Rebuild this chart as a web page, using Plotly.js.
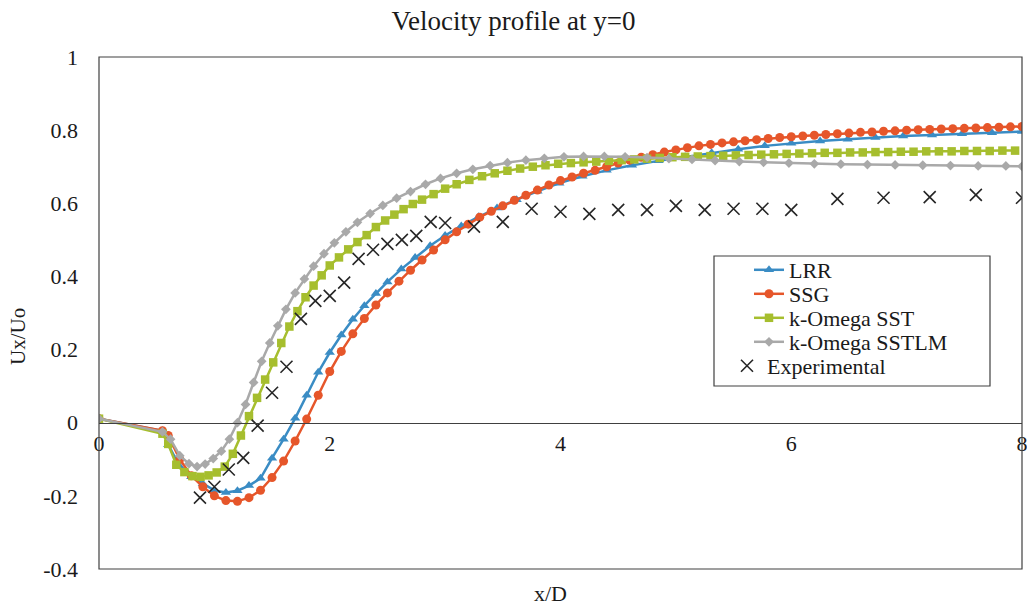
<!DOCTYPE html>
<html>
<head>
<meta charset="utf-8">
<script src="https://cdn.plot.ly/plotly-3.0.1.min.js"></script>
<style>html,body{margin:0;padding:0;background:#fff;}#chart{width:1027px;height:606px;}</style>
</head>
<body>
<div id="chart"></div>
<script>
// ---- Data ----
const seriesNames = ["LRR", "SSG", "k-Omega SST", "k-Omega SSTLM", "Experimental"];

const xLRR = [0, 0.55, 0.6, 0.7, 0.8, 0.9, 1.0, 1.1, 1.2, 1.3, 1.4, 1.5, 1.6, 1.7, 1.8, 1.9, 2.0, 2.1, 2.2, 2.3, 2.4, 2.5, 2.62, 2.74, 2.87, 3.0, 3.14, 3.29, 3.45, 3.62, 3.8, 3.99, 4.19, 4.4, 4.62, 4.85, 5.08, 5.31, 5.54, 5.77, 6.0, 6.25, 6.49, 6.73, 6.97, 7.22, 7.48, 7.74, 8.0];
const yLRR = [0.011, -0.022, -0.06, -0.12, -0.148, -0.167, -0.185, -0.191, -0.186, -0.172, -0.152, -0.097, -0.045, 0.012, 0.075, 0.138, 0.192, 0.24, 0.283, 0.32, 0.353, 0.385, 0.42, 0.452, 0.484, 0.512, 0.538, 0.563, 0.587, 0.61, 0.633, 0.655, 0.674, 0.69, 0.704, 0.716, 0.727, 0.738, 0.748, 0.757, 0.764, 0.77, 0.775, 0.78, 0.784, 0.787, 0.79, 0.793, 0.796];

const xSSG = [0, 0.55, 0.6, 0.7, 0.8, 0.9, 1.0, 1.1, 1.2, 1.3, 1.4, 1.5, 1.6, 1.7, 1.8, 1.9, 2.0, 2.1, 2.2, 2.3, 2.4, 2.5, 2.6, 2.7, 2.8, 2.9, 3.0, 3.1, 3.2, 3.3, 3.4, 3.5, 3.6, 3.7, 3.8, 3.9, 4.0, 4.1, 4.2, 4.3, 4.4, 4.5, 4.6, 4.7, 4.8, 4.9, 5.0, 5.1, 5.2, 5.3, 5.4, 5.5, 5.6, 5.7, 5.8, 5.9, 6.0, 6.1, 6.2, 6.3, 6.4, 6.5, 6.6, 6.7, 6.8, 6.9, 7.0, 7.1, 7.2, 7.3, 7.4, 7.5, 7.6, 7.7, 7.8, 7.9, 8.0];
const ySSG = [0.011, -0.022, -0.035, -0.1, -0.145, -0.175, -0.2, -0.213, -0.215, -0.205, -0.185, -0.15, -0.105, -0.05, 0.01, 0.075, 0.14, 0.195, 0.243, 0.285, 0.322, 0.355, 0.387, 0.417, 0.445, 0.472, 0.5, 0.522, 0.543, 0.562, 0.578, 0.593, 0.608, 0.622, 0.636, 0.65, 0.662, 0.672, 0.682, 0.69, 0.7, 0.71, 0.718, 0.726, 0.733, 0.74, 0.746, 0.752, 0.757, 0.761, 0.765, 0.768, 0.771, 0.774, 0.777, 0.78, 0.782, 0.784, 0.786, 0.788, 0.79, 0.792, 0.794, 0.795, 0.797, 0.798, 0.8, 0.801, 0.802, 0.803, 0.804, 0.805, 0.806, 0.807, 0.808, 0.809, 0.81];

const xSST = [0, 0.55, 0.6, 0.67, 0.74, 0.81, 0.88, 0.95, 1.02, 1.09, 1.16, 1.23, 1.3, 1.37, 1.44, 1.51, 1.58, 1.65, 1.72, 1.79, 1.86, 1.93, 2.0, 2.08, 2.16, 2.24, 2.32, 2.4, 2.48, 2.56, 2.64, 2.72, 2.8, 2.9, 3.0, 3.1, 3.21, 3.32, 3.43, 3.54, 3.65, 3.76, 3.87, 3.98, 4.09, 4.2, 4.31, 4.42, 4.53, 4.64, 4.75, 4.86, 4.97, 5.08, 5.19, 5.3, 5.41, 5.52, 5.63, 5.74, 5.85, 5.96, 6.07, 6.18, 6.29, 6.4, 6.51, 6.62, 6.73, 6.84, 6.95, 7.06, 7.17, 7.28, 7.39, 7.5, 7.61, 7.72, 7.83, 7.94];
const ySST = [0.011, -0.03, -0.058, -0.115, -0.135, -0.146, -0.148, -0.144, -0.136, -0.12, -0.085, -0.035, 0.018, 0.068, 0.118, 0.165, 0.218, 0.263, 0.305, 0.343, 0.375, 0.403, 0.43, 0.452, 0.474, 0.494, 0.513, 0.535, 0.553, 0.569, 0.584, 0.598, 0.61, 0.625, 0.64, 0.652, 0.664, 0.674, 0.682, 0.689, 0.695, 0.7, 0.704, 0.708, 0.71, 0.712, 0.714, 0.716, 0.718, 0.72, 0.722, 0.724, 0.726, 0.727, 0.728, 0.729, 0.73, 0.731, 0.732, 0.733, 0.734, 0.735, 0.736, 0.737, 0.738, 0.738, 0.739, 0.739, 0.74, 0.74, 0.741, 0.741, 0.742, 0.742, 0.742, 0.743, 0.743, 0.743, 0.744, 0.744];

const xSSTLM = [0, 0.55, 0.62, 0.7, 0.78, 0.85, 0.92, 0.99, 1.06, 1.13, 1.2, 1.27, 1.34, 1.41, 1.48, 1.55, 1.62, 1.7, 1.78, 1.86, 1.95, 2.04, 2.14, 2.24, 2.35, 2.46, 2.58, 2.7, 2.83, 2.96, 3.1, 3.24, 3.39, 3.54, 3.7, 3.86, 4.03, 4.2, 4.38, 4.56, 4.75, 4.94, 5.14, 5.34, 5.55, 5.76, 5.98, 6.2, 6.43, 6.66, 6.9, 7.14, 7.38, 7.62, 7.86, 8.0];
const ySSTLM = [0.011, -0.025, -0.045, -0.09, -0.112, -0.12, -0.113, -0.098, -0.078, -0.045, 0.0, 0.05, 0.11, 0.168, 0.218, 0.265, 0.31, 0.355, 0.393, 0.428, 0.462, 0.492, 0.522, 0.548, 0.572, 0.594, 0.614, 0.632, 0.652, 0.668, 0.682, 0.693, 0.703, 0.711, 0.718, 0.723, 0.727, 0.728, 0.728, 0.727, 0.725, 0.722, 0.72, 0.717, 0.714, 0.712, 0.71, 0.708, 0.707, 0.706, 0.705, 0.704, 0.703, 0.702, 0.702, 0.701];

const xExp = [0.875, 1.0, 1.125, 1.25, 1.375, 1.5, 1.625, 1.75, 1.875, 2.0, 2.125, 2.25, 2.375, 2.5, 2.625, 2.75, 2.875, 3.0, 3.25, 3.5, 3.75, 4.0, 4.25, 4.5, 4.75, 5.0, 5.25, 5.5, 5.75, 6.0, 6.4, 6.8, 7.2, 7.6, 8.0];
const yExp = [-0.205, -0.175, -0.128, -0.096, -0.008, 0.082, 0.153, 0.284, 0.333, 0.347, 0.383, 0.448, 0.473, 0.489, 0.5, 0.511, 0.549, 0.546, 0.536, 0.549, 0.585, 0.577, 0.571, 0.582, 0.582, 0.593, 0.582, 0.585, 0.585, 0.582, 0.612, 0.615, 0.617, 0.623, 0.615];

const xTickVals = [0, 2, 4, 6, 8];
const xTickText = ["0", "2", "4", "6", "8"];
const yTickVals = [-0.4, -0.2, 0, 0.2, 0.4, 0.6, 0.8, 1];
const yTickText = ["-0.4", "-0.2", "0", "0.2", "0.4", "0.6", "0.8", "1"];

// ---- Styles ----
const FONT = '"Liberation Serif", "Times New Roman", Times, "DejaVu Serif", serif';
const TXT = "#1a1a1a";
const colLRR = "#3A8CC4", colSSG = "#E6562A", colSST = "#A6BE2E", colSSTLM = "#A9A9A9", colExp = "#262626";

const traces = [
  {x: xLRR, y: yLRR, name: seriesNames[0], legend: "legend", mode: "lines+markers", line: {color: colLRR, width: 2.5},
   marker: {symbol: "triangle-up", size: 9, color: colLRR}},
  {x: xSSG, y: ySSG, name: seriesNames[1], legend: "legend2", mode: "lines+markers", line: {color: colSSG, width: 2.5},
   marker: {symbol: "circle", size: 9, color: colSSG}},
  {x: xSST, y: ySST, name: seriesNames[2], legend: "legend3", mode: "lines+markers", line: {color: colSST, width: 2.5},
   marker: {symbol: "square", size: 8.5, color: colSST}},
  {x: xSSTLM, y: ySSTLM, name: seriesNames[3], legend: "legend4", mode: "lines+markers", line: {color: colSSTLM, width: 2.5},
   marker: {symbol: "diamond", size: 7.5, color: colSSTLM}},
  {x: xExp, y: yExp, name: seriesNames[4], legend: "legend5", mode: "markers",
   marker: {symbol: "x-thin", size: 12, color: colExp, line: {color: colExp, width: 1.6}}}
];

const L = 99, R = 1022, T = 57, B = 569, W = 1027, H = 606;
const px2x = p => (p - L) / (R - L);
const px2y = p => (B - p) / (B - T);

function legendAt(leftPx, rowPx) {
  return {x: px2x(leftPx), y: px2y(rowPx), xanchor: "left", yanchor: "middle",
          bgcolor: "rgba(0,0,0,0)", borderwidth: 0,
          font: {family: FONT, size: 22, color: TXT}};
}

const layout = {
  width: W, height: H,
  margin: {l: L, r: W - R, t: T, b: H - B, pad: 0},
  paper_bgcolor: "#fff", plot_bgcolor: "#fff",
  font: {family: FONT, size: 22, color: TXT},
  title: {text: "Velocity profile at y=0", x: 0.5, xref: "container", xanchor: "center",
          y: 1 - 21 / H, yref: "container", yanchor: "middle",
          font: {family: FONT, size: 27, color: TXT}},
  showlegend: true,
  legend: legendAt(749, 270),
  legend2: legendAt(749, 294),
  legend3: legendAt(749, 318),
  legend4: legendAt(749, 342),
  legend5: legendAt(727, 366),
  xaxis: {range: [0, 8], anchor: "free", position: 0.4 / 1.4,
          showline: true, linecolor: "#404040", linewidth: 1.5,
          showgrid: false, zeroline: false, ticks: "",
          tickmode: "array", tickvals: xTickVals, ticktext: xTickText,
          ticklabelstandoff: 0, ticklabeloverflow: "allow",
          tickfont: {family: FONT, size: 22, color: TXT}},
  yaxis: {range: [-0.4, 1], showline: false, showgrid: false, zeroline: false, ticks: "",
          tickmode: "array", tickvals: yTickVals, ticktext: yTickText,
          ticklabelstandoff: 20,
          tickfont: {family: FONT, size: 22, color: TXT}},
  shapes: [
    {type: "rect", xref: "paper", yref: "paper", x0: 0, x1: 1, y0: 0, y1: 1,
     line: {color: "#404040", width: 1.2}, fillcolor: "rgba(0,0,0,0)", layer: "above"},
    {type: "rect", xref: "paper", yref: "paper", x0: px2x(714), x1: px2x(990), y0: px2y(386), y1: px2y(256),
     line: {color: "#404040", width: 1.2}, fillcolor: "rgba(0,0,0,0)", layer: "above"}
  ],
  annotations: [
    {text: "x/D", xref: "paper", yref: "paper", x: px2x(550), y: px2y(593), xanchor: "center", yanchor: "middle",
     showarrow: false, font: {family: FONT, size: 22, color: TXT}},
    {text: "Ux/Uo", xref: "paper", yref: "paper", x: px2x(18), y: px2y(337), xanchor: "center", yanchor: "middle",
     textangle: -90, showarrow: false, font: {family: FONT, size: 21, color: TXT}}
  ]
};

Plotly.newPlot("chart", traces, layout, {displayModeBar: false, staticPlot: true});
</script>
</body>
</html>
